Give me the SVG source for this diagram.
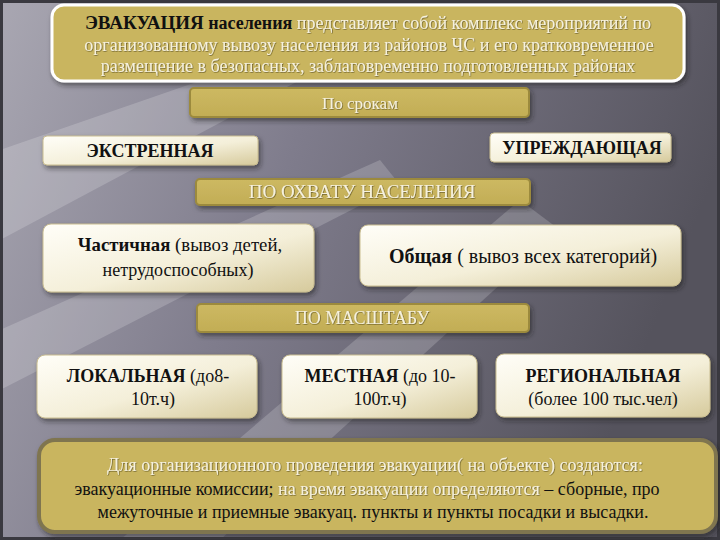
<svg xmlns="http://www.w3.org/2000/svg" width="720" height="540" viewBox="0 0 720 540">
<defs>
<linearGradient id="bg" x1="0" y1="0" x2="1" y2="0.3">
<stop offset="0" stop-color="#a9a7b2"/>
<stop offset="0.45" stop-color="#7f7c8c"/>
<stop offset="1" stop-color="#55535d"/>
</linearGradient>
<linearGradient id="cream" x1="0" y1="0" x2="1" y2="1">
<stop offset="0" stop-color="#fffef8"/>
<stop offset="0.55" stop-color="#f4efd9"/>
<stop offset="1" stop-color="#d6ca9c"/>
</linearGradient>
<linearGradient id="gold" x1="0" y1="0" x2="0" y2="1">
<stop offset="0" stop-color="#cdb962"/>
<stop offset="1" stop-color="#c2ad55"/>
</linearGradient>
<filter id="sh" x="-10%" y="-20%" width="125%" height="150%">
<feDropShadow dx="2" dy="3" stdDeviation="2.5" flood-color="#222" flood-opacity="0.55"/>
</filter>
<filter id="ts" x="-5%" y="-30%" width="110%" height="160%">
<feDropShadow dx="0.6" dy="0.6" stdDeviation="0.7" flood-color="#3a3210" flood-opacity="0.75"/>
</filter>
<style>
.g{fill:url(#gold);stroke:#9c8a3c;stroke-width:2;}
.c{fill:url(#cream);stroke:#c9bd90;stroke-width:1;}
.w{fill:#f6f1dc;}
.k{fill:#111;}
.b{font-weight:bold;}
text{font-family:"Liberation Serif","DejaVu Serif",serif;}
</style>
</defs>
<rect width="720" height="540" fill="url(#bg)"/>
<g opacity="0.18" fill="#ffffff">
<polygon points="0,150 260,60 300,80 0,240"/>
<polygon points="120,540 520,200 560,230 220,540"/>
<polygon points="0,330 380,160 400,185 0,390"/>
</g>
<rect x="1.5" y="1.5" width="717" height="537" fill="none" stroke="#3a3940" stroke-width="3"/>

<g id="intro">
<rect x="52" y="5" width="632" height="76" rx="12" fill="#c9b55e" stroke="#ffffff" stroke-width="3" filter="url(#sh)"/>
<text x="368" y="29" text-anchor="middle" font-size="18"><tspan class="k b" font-size="19">ЭВАКУАЦИЯ</tspan><tspan class="k b"> населения</tspan><tspan class="w" filter="url(#ts)"> представляет собой комплекс мероприятий по</tspan></text>
<text x="369" y="51" text-anchor="middle" font-size="18" class="w" filter="url(#ts)">организованному вывозу населения из районов ЧС и его кратковременное</text>
<text x="368" y="72" text-anchor="middle" font-size="18" class="w" filter="url(#ts)">размещение в безопасных, заблаговременно подготовленных районах</text>
</g>

<g id="po-srokam">
<rect x="190" y="88" width="339" height="29" rx="4" class="g" filter="url(#sh)"/>
<text x="360" y="109" text-anchor="middle" font-size="17" class="w" filter="url(#ts)">По срокам</text>
</g>

<g id="ekstrennaya">
<rect x="43" y="136" width="215" height="29" rx="4" class="c" filter="url(#sh)"/>
<text x="150" y="157" text-anchor="middle" font-size="18" class="k b">ЭКСТРЕННАЯ</text>
</g>

<g id="uprezhdayushchaya">
<rect x="490" y="133" width="181" height="29" rx="4" class="c" filter="url(#sh)"/>
<text x="582" y="154" text-anchor="middle" font-size="18" class="k b">УПРЕЖДАЮЩАЯ</text>
</g>

<g id="po-okhvatu">
<rect x="196" y="179" width="334" height="26" rx="4" class="g" filter="url(#sh)"/>
<text x="362" y="198" text-anchor="middle" font-size="19" class="w" filter="url(#ts)">ПО ОХВАТУ НАСЕЛЕНИЯ</text>
</g>

<g id="chastichnaya">
<rect x="43" y="224" width="271" height="68" rx="8" class="c" filter="url(#sh)"/>
<text x="180" y="251" text-anchor="middle" font-size="18.8" class="k"><tspan class="b">Частичная</tspan> (вывоз детей,</text>
<text x="178" y="276" text-anchor="middle" font-size="18" class="k">нетрудоспособных)</text>
</g>

<g id="obshchaya">
<rect x="360" y="225" width="321" height="61" rx="8" class="c" filter="url(#sh)"/>
<text x="523" y="263" text-anchor="middle" font-size="20" class="k"><tspan class="b">Общая</tspan> ( вывоз всех категорий)</text>
</g>

<g id="po-masshtabu">
<rect x="197" y="304" width="332" height="28" rx="4" class="g" filter="url(#sh)"/>
<text x="362" y="324" text-anchor="middle" font-size="18" class="w" filter="url(#ts)">ПО МАСШТАБУ</text>
</g>

<g id="lokalnaya">
<rect x="37" y="355" width="220" height="63" rx="8" class="c" filter="url(#sh)"/>
<text x="148" y="382" text-anchor="middle" font-size="18" class="k"><tspan class="b">ЛОКАЛЬНАЯ</tspan> (до8-</text>
<text x="153" y="405" text-anchor="middle" font-size="18" class="k">10т.ч)</text>
</g>

<g id="mestnaya">
<rect x="282" y="355" width="195" height="63" rx="8" class="c" filter="url(#sh)"/>
<text x="380" y="382" text-anchor="middle" font-size="18" class="k"><tspan class="b">МЕСТНАЯ</tspan> (до 10-</text>
<text x="380" y="405" text-anchor="middle" font-size="18" class="k">100т.ч)</text>
</g>

<g id="regionalnaya">
<rect x="496" y="354" width="214" height="63" rx="8" class="c" filter="url(#sh)"/>
<text x="603" y="382" text-anchor="middle" font-size="18" class="k b">РЕГИОНАЛЬНАЯ</text>
<text x="603" y="405" text-anchor="middle" font-size="18" class="k">(более 100 тыс.чел)</text>
</g>

<g id="note">
<rect x="39" y="440" width="677" height="92" rx="16" fill="#c9b55e" stroke="#7f7450" stroke-width="4" filter="url(#sh)"/>
<text x="375" y="471" text-anchor="middle" font-size="18" class="w" filter="url(#ts)">Для организационного проведения эвакуации( на объекте) создаются:</text>
<text x="367" y="495" text-anchor="middle" font-size="18"><tspan class="k">эвакуационные комиссии; </tspan><tspan class="w" filter="url(#ts)">на время эвакуации определяются </tspan><tspan class="k">– сборные, про</tspan></text>
<text x="373" y="518" text-anchor="middle" font-size="18" class="k">межуточные и приемные эвакуац. пункты и пункты посадки и высадки.</text>
</g>

<g id="connectors"></g>
</svg>
